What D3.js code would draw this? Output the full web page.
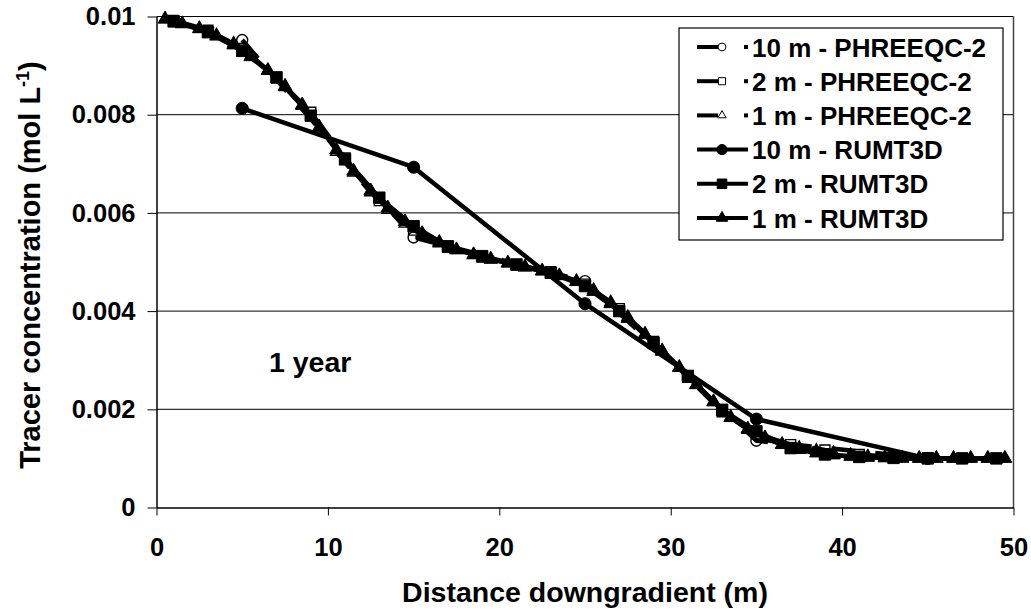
<!DOCTYPE html>
<html>
<head>
<meta charset="utf-8">
<script src="https://cdn.jsdelivr.net/npm/d3@7"></script>
<style>
  body { margin: 0; background: #fff; }
  svg text { font-family: "Liberation Sans", Arial, sans-serif; font-weight: bold; fill: #000; }
</style>
</head>
<body>
<div id="chart"></div>
<script>
// distances (m) for each grid resolution
const x10 = [5, 15, 25, 35, 45];
const x2 = [1, 3, 5, 7, 9, 11, 13, 15, 17, 19, 21, 23, 25, 27, 29, 31, 33, 35, 37, 39, 41, 43, 45, 47, 49];
const x1 = [0.5, 1.5, 2.5, 3.5, 4.5, 5.5, 6.5, 7.5, 8.5, 9.5, 10.5, 11.5, 12.5, 13.5, 14.5, 15.5, 16.5, 17.5, 18.5, 19.5,
  20.5, 21.5, 22.5, 23.5, 24.5, 25.5, 26.5, 27.5, 28.5, 29.5, 30.5, 31.5, 32.5, 33.5, 34.5, 35.5, 36.5, 37.5, 38.5, 39.5,
  40.5, 41.5, 42.5, 43.5, 44.5, 45.5, 46.5, 47.5, 48.5, 49.5];

// tracer concentration (mol/L)
const phreeqc10 = [0.00952, 0.0055, 0.00461, 0.00136, 0.001];
const phreeqc2 = [0.00992, 0.00972, 0.00935, 0.00875, 0.00805, 0.00712, 0.00625, 0.00565, 0.0053, 0.0051,
  0.00494, 0.0048, 0.00455, 0.00405, 0.00338, 0.00265, 0.00195, 0.0015, 0.00128, 0.00117,
  0.00108, 0.00103, 0.00101, 0.001, 0.001];
const phreeqc1 = [0.00994, 0.00986, 0.00976, 0.00962, 0.00945, 0.0092, 0.0089, 0.00856, 0.00818, 0.00772,
  0.00724, 0.00682, 0.00642, 0.00606, 0.00578, 0.00555, 0.00538, 0.00524, 0.00514, 0.00505,
  0.00497, 0.00489, 0.00481, 0.00472, 0.00461, 0.00443, 0.00418, 0.00388, 0.00354, 0.0032,
  0.00286, 0.00251, 0.00216, 0.00184, 0.00158, 0.0014, 0.00129, 0.00122, 0.00116, 0.00111,
  0.00107, 0.00104, 0.00102, 0.00101, 0.001, 0.001, 0.001, 0.001, 0.001, 0.001];
const rumt10 = [0.00813, 0.00693, 0.00415, 0.0018, 0.001];
const rumt2 = [0.0099, 0.00968, 0.0093, 0.00876, 0.00798, 0.00709, 0.00631, 0.00573, 0.00532, 0.00512,
  0.00495, 0.00478, 0.00451, 0.004, 0.00335, 0.00268, 0.00199, 0.00155, 0.00121, 0.00108,
  0.00103, 0.00101, 0.001, 0.001, 0.001];
const rumt1 = [0.00995, 0.00985, 0.00975, 0.0096, 0.00942, 0.00918, 0.0089, 0.00858, 0.0082, 0.00775,
  0.00728, 0.00685, 0.00645, 0.0061, 0.00582, 0.00558, 0.0054, 0.00525, 0.00515, 0.00506,
  0.00498, 0.0049, 0.00482, 0.00472, 0.0046, 0.0044, 0.00415, 0.00385, 0.00352, 0.00318,
  0.00285, 0.0025, 0.00215, 0.00183, 0.0016, 0.00142, 0.00128, 0.00118, 0.00111, 0.00107,
  0.00104, 0.00102, 0.00101, 0.001, 0.001, 0.001, 0.001, 0.001, 0.001, 0.001];

const xTicks = [0, 10, 20, 30, 40, 50];
const yTicks = [0, 0.002, 0.004, 0.006, 0.008, 0.01];

const series = [
  { name: '10 m - PHREEQC-2', xs: x10, ys: phreeqc10, symbol: d3.symbolCircle, size: 95, filled: false },
  { name: '2 m - PHREEQC-2', xs: x2, ys: phreeqc2, symbol: d3.symbolSquare, size: 100, filled: false },
  { name: '1 m - PHREEQC-2', xs: x1, ys: phreeqc1, symbol: d3.symbolTriangle, size: 60, filled: false },
  { name: '10 m - RUMT3D', xs: x10, ys: rumt10, symbol: d3.symbolCircle, size: 115, filled: true },
  { name: '2 m - RUMT3D', xs: x2, ys: rumt2, symbol: d3.symbolSquare, size: 130, filled: true },
  { name: '1 m - RUMT3D', xs: x1, ys: rumt1, symbol: d3.symbolTriangle, size: 80, filled: true }
];

const W = 1031, H = 613;
const margin = { top: 16.5, right: 17.5, bottom: 105.5, left: 156.5 };

const svg = d3.select('#chart').append('svg')
  .attr('width', W)
  .attr('height', H);

svg.append('rect').attr('width', W).attr('height', H).attr('fill', '#fff');

const x = d3.scaleLinear().domain([0, 50]).range([margin.left, W - margin.right]);
const y = d3.scaleLinear().domain([0, 0.01]).range([H - margin.bottom, margin.top]);

// gridlines
svg.append('g')
  .selectAll('line')
  .data(yTicks.slice(1))
  .enter()
  .append('line')
  .attr('x1', x(0)).attr('x2', x(50))
  .attr('y1', d => y(d)).attr('y2', d => y(d))
  .attr('stroke', '#000')
  .attr('stroke-width', 1);

// right border of plot area
svg.append('line')
  .attr('x1', x(50)).attr('x2', x(50))
  .attr('y1', y(0.01)).attr('y2', y(0))
  .attr('stroke', '#444')
  .attr('stroke-width', 1.5);

svg.append('g')
  .attr('transform', `translate(0,${y(0)})`)
  .call(d3.axisBottom(x).tickValues(xTicks).tickSize(8).tickSizeOuter(0).tickPadding(22));

svg.append('g')
  .attr('transform', `translate(${x(0)},0)`)
  .call(d3.axisLeft(y).tickValues(yTicks).tickSize(9).tickSizeOuter(0).tickPadding(12)
    .tickFormat(d => d === 0 ? '0' : String(+d.toFixed(3))));

svg.selectAll('.domain').attr('stroke', '#000').attr('stroke-width', 1.5);
svg.selectAll('.tick line').attr('stroke', '#000').attr('stroke-width', 1);
svg.selectAll('.tick text').style('font-size', '25.5px');

// series
const line = d3.line().x(d => x(d[0])).y(d => y(d[1]));

series.forEach(s => {
  const pts = s.xs.map((v, i) => [v, s.ys[i]]);
  svg.append('path')
    .datum(pts)
    .attr('d', line)
    .attr('fill', 'none')
    .attr('stroke', '#000')
    .attr('stroke-width', 4.5)
    .attr('stroke-linejoin', 'round')
    .attr('stroke-dasharray', s.filled ? null : '24,20');
  svg.append('g')
    .selectAll('path')
    .data(pts)
    .enter()
    .append('path')
    .attr('transform', d => `translate(${x(d[0])},${y(d[1])})`)
    .attr('d', d3.symbol().type(s.symbol).size(s.size))
    .attr('fill', s.filled ? '#000' : 'none')
    .attr('stroke', '#000')
    .attr('stroke-width', s.filled ? 1 : 1.4);
});

// annotation
svg.append('text')
  .attr('x', 269).attr('y', 372)
  .style('font-size', '28.5px')
  .text('1 year');

// axis titles
svg.append('text')
  .attr('x', 585).attr('y', 602)
  .attr('text-anchor', 'middle')
  .style('font-size', '28.5px')
  .text('Distance downgradient (m)');

const yTitle = svg.append('text')
  .attr('transform', 'translate(40,265) rotate(-90)')
  .attr('text-anchor', 'middle')
  .style('font-size', '29px');
yTitle.append('tspan').text('Tracer concentration (mol L');
yTitle.append('tspan').attr('dy', -11).style('font-size', '18px').text('-1');
yTitle.append('tspan').attr('dy', 11).text(')');

// legend
const legend = svg.append('g');
legend.append('rect')
  .attr('x', 679).attr('y', 28)
  .attr('width', 324).attr('height', 212)
  .attr('fill', '#fff')
  .attr('stroke', '#000')
  .attr('stroke-width', 1.2);

series.forEach((s, i) => {
  const cy = 47 + i * 34.2;
  const row = legend.append('g');
  if (s.filled) {
    row.append('line')
      .attr('x1', 697).attr('x2', 748).attr('y1', cy).attr('y2', cy)
      .attr('stroke', '#000').attr('stroke-width', 4);
  } else {
    row.append('line')
      .attr('x1', 697).attr('x2', 718).attr('y1', cy).attr('y2', cy)
      .attr('stroke', '#000').attr('stroke-width', 4);
    row.append('line')
      .attr('x1', 744).attr('x2', 748).attr('y1', cy).attr('y2', cy)
      .attr('stroke', '#000').attr('stroke-width', 4);
  }
  row.append('path')
    .attr('transform', `translate(722,${cy})`)
    .attr('d', d3.symbol().type(s.symbol).size(s.filled ? s.size * 0.7 : s.size * 0.5))
    .attr('fill', s.filled ? '#000' : '#fff')
    .attr('stroke', '#000')
    .attr('stroke-width', 1);
  row.append('text')
    .attr('x', 752).attr('y', cy + 9.5)
    .style('font-size', '26px')
    .text(s.name);
});
</script>
</body>
</html>
